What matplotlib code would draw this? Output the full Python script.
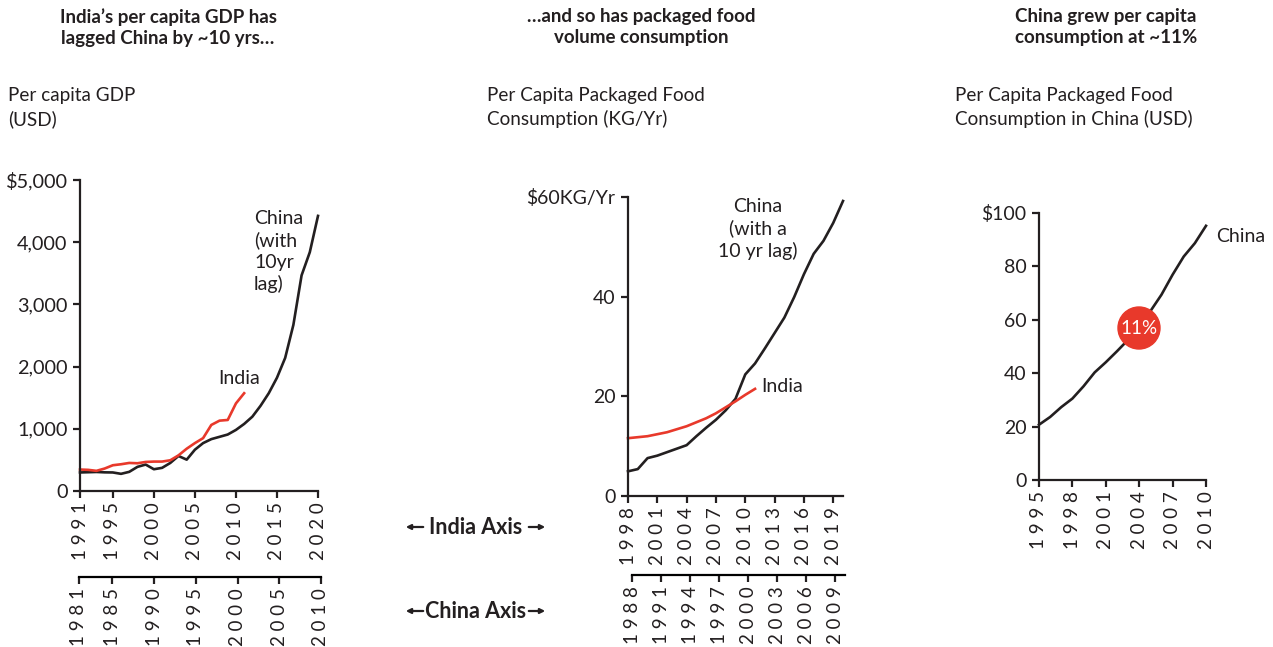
import numpy as np
import matplotlib
matplotlib.use('Agg')
import matplotlib.pyplot as plt
from matplotlib.patches import FancyArrowPatch, Circle

plt.rcParams['font.family'] = ['Lato', 'DejaVu Sans']

# panel 1: per capita GDP (USD), India years 1991-2011, China shifted by 10 years
gdp_years = np.arange(1991, 2021)
china_gdp = [298, 302, 306, 300, 298, 276, 308, 388, 425, 350, 372, 451, 563, 504, 664,
             770, 834, 871, 908, 982, 1078, 1195, 1370, 1572, 1821, 2140, 2671, 3467, 3839, 4423]
india_gdp_years = np.arange(1991, 2012)
india_gdp = [345, 340, 324, 361, 414, 430, 451, 446, 467, 473, 473, 494, 573, 680, 770,
             850, 1062, 1131, 1142, 1408, 1572]

# panel 2: packaged food volume (KG/Yr)
food_years = np.arange(1998, 2021)
china_food = [4.95, 5.4, 7.6, 8.1, 8.8, 9.5, 10.2, 12.0, 13.7, 15.3, 17.2, 19.5, 24.4,
              26.6, 29.6, 32.7, 35.8, 39.9, 44.5, 48.6, 51.2, 54.8, 59.2]
india_food_years = np.arange(1998, 2012)
india_food = [11.6, 11.8, 12.0, 12.4, 12.8, 13.4, 14.0, 14.8, 15.6, 16.6, 17.8, 19.0, 20.3, 21.5]

# panel 3: packaged food value in China (USD)
value_years = np.arange(1995, 2011)
china_value = [20.7, 23.6, 27.3, 30.5, 35.1, 40.3, 44.1, 48.2, 52.5, 56.9, 63.2, 69.4,
               76.9, 83.7, 88.7, 95.2]

gdp_ticks = [1991, 1995, 2000, 2005, 2010, 2015, 2020]
gdp_china_ticks = [1981, 1985, 1990, 1995, 2000, 2005, 2010]
food_ticks = [1998, 2001, 2004, 2007, 2010, 2013, 2016, 2019]
food_china_ticks = [1988, 1991, 1994, 1997, 2000, 2003, 2006, 2009]
value_ticks = [1995, 1998, 2001, 2004, 2007, 2010]

RED = '#e8392b'
BLACK = '#231f20'
W, H = 1273, 647
XSIZE = 13.5

fig = plt.figure(figsize=(W / 100, H / 100), dpi=100)


def px_axes(left, top, right, bottom):
    return fig.add_axes([left / W, 1 - bottom / H, (right - left) / W, (bottom - top) / H])


def spaced(y):
    return ' '.join(str(y))


def style(ax, ysize):
    for s in ['top', 'right']:
        ax.spines[s].set_visible(False)
    for s in ['left', 'bottom']:
        ax.spines[s].set_linewidth(1.6)
        ax.spines[s].set_color(BLACK)
    ax.tick_params(axis='both', direction='out', length=5, width=1.6, color=BLACK)
    ax.tick_params(axis='y', labelsize=ysize, colors=BLACK, pad=4)
    ax.tick_params(axis='x', labelsize=XSIZE, colors=BLACK, pad=3)
    ax.patch.set_alpha(0)


def year_axis(ax, ticks):
    ax.set_xticks(ticks)
    ax.set_xticklabels([spaced(t) for t in ticks], rotation=90, va='top')


def lag_axis(left, right, y, lo, hi, ticks):
    ax = px_axes(left, y - 1, right, y)
    ax.set_xlim(lo, hi)
    ax.set_yticks([])
    for s in ['top', 'right', 'left']:
        ax.spines[s].set_visible(False)
    ax.spines['bottom'].set_linewidth(1.6)
    ax.tick_params(axis='x', direction='out', length=5, width=1.6, color=BLACK,
                   labelsize=XSIZE, labelcolor=BLACK, pad=3)
    year_axis(ax, ticks)
    ax.patch.set_alpha(0)


# ---- panel 1
ax1 = px_axes(80, 180, 318, 491)
ax1.plot(gdp_years, china_gdp, color=BLACK, lw=1.9, clip_on=False)
ax1.plot(india_gdp_years, india_gdp, color=RED, lw=1.9, clip_on=False)
ax1.set_xlim(1991, 2020)
ax1.set_ylim(0, 5000)
ax1.set_yticks([0, 1000, 2000, 3000, 4000, 5000])
ax1.set_yticklabels(['0', '1,000', '2,000', '3,000', '4,000', '$5,000'])
style(ax1, 14.3)
year_axis(ax1, gdp_ticks)
lag_axis(79, 321, 577, 1981, 2010, gdp_china_ticks)

# ---- panel 2
ax2 = px_axes(628, 197, 843, 496)
ax2.plot(food_years, china_food, color=BLACK, lw=1.9, clip_on=False)
ax2.plot(india_food_years, india_food, color=RED, lw=1.9, clip_on=False)
ax2.set_xlim(1998, 2020)
ax2.set_ylim(0, 60)
ax2.set_yticks([0, 20, 40, 60])
ax2.set_yticklabels(['0', '20', '40', '$60KG/Yr'])
style(ax2, 14)
year_axis(ax2, food_ticks)
lag_axis(632, 845, 575, 1988, 2010, food_china_ticks)

# ---- panel 3
ax3 = px_axes(1039, 213, 1206, 480)
ax3.plot(value_years, china_value, color=BLACK, lw=1.9, clip_on=False)
ax3.set_xlim(1995, 2010)
ax3.set_ylim(0, 100)
ax3.set_yticks([0, 20, 40, 60, 80, 100])
ax3.set_yticklabels(['0', '20', '40', '60', '80', '$100'])
style(ax3, 14)
year_axis(ax3, value_ticks)

# growth bubble (radius in inches, 21 px)
bubble = Circle((1139 / 100, (H - 328) / 100), 0.21, transform=fig.dpi_scale_trans,
                color=RED, zorder=5)
fig.add_artist(bubble)
fig.text(1139 / W, 1 - 328 / H, '11%', color='white', fontsize=13.5,
         ha='center', va='center', zorder=6)


# ---- texts
def ftext(x, y, s, **kw):
    fig.text(x / W, 1 - y / H, s, **kw)


title_kw = dict(fontsize=13.5, fontweight='bold', ha='center', va='top',
                color=BLACK, linespacing=1.3)
ftext(168, 8, "India\u2019s per capita GDP has\nlagged China by ~10 yrs\u2026", **title_kw)
ftext(641, 8, "\u2026and so has packaged food\nvolume consumption", **title_kw)
ftext(1106, 8, "China grew per capita\nconsumption at ~11%", **title_kw)

lab_kw = dict(fontsize=13.6, ha='left', va='top', color=BLACK, linespacing=1.42)
ftext(8, 87, "Per capita GDP\n(USD)", **lab_kw)
ftext(487, 87, "Per Capita Packaged Food\nConsumption (KG/Yr)", **lab_kw)
ftext(955, 87, "Per Capita Packaged Food\nConsumption in China (USD)", **lab_kw)

note_kw = dict(fontsize=14, color=BLACK, linespacing=1.3)
ftext(254, 210, "China\n(with\n10yr\nlag)", ha='left', va='top', **note_kw)
ftext(218, 379, "India", ha='left', va='center', **note_kw)
ftext(758, 198, "China\n(with a\n10 yr lag)", ha='center', va='top', **note_kw)
ftext(761, 386, "India", ha='left', va='center', **note_kw)
ftext(1216, 237, "China", ha='left', va='center', **note_kw)

# axis name markers between panels
for y, name in [(527, 'India Axis'), (611, 'China Axis')]:
    ftext(476, y, name, fontsize=15.5, fontweight='bold', ha='center', va='center',
          color=BLACK)
    for x0, x1 in [(426, 403), (526, 548)]:
        fig.add_artist(FancyArrowPatch((x0 / W, 1 - y / H), (x1 / W, 1 - y / H),
                                       transform=fig.transFigure, arrowstyle='-|>',
                                       mutation_scale=7, lw=1.6, color=BLACK))

plt.savefig('out.png', dpi=100)
plt.close()
